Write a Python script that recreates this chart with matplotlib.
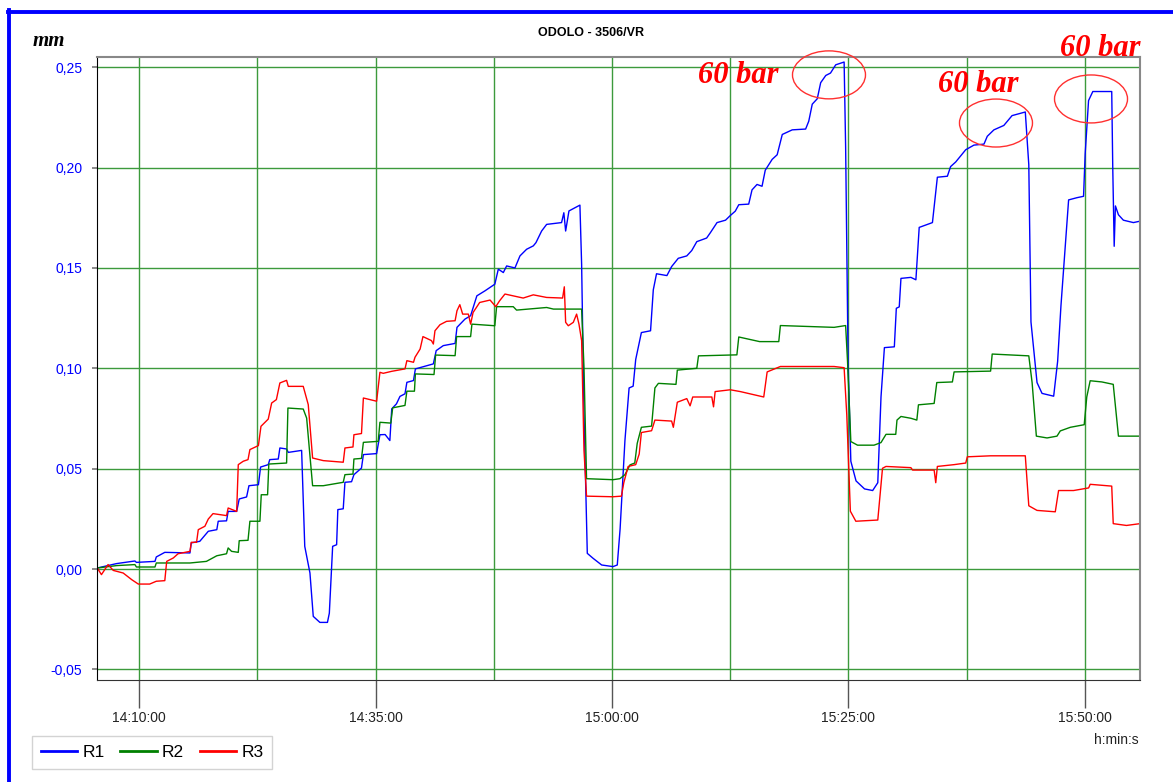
import matplotlib
matplotlib.use("Agg")
import matplotlib.pyplot as plt
from matplotlib.patches import Ellipse
from matplotlib.lines import Line2D
from matplotlib.ticker import FixedLocator, FuncFormatter

# Time axis: minutes after 14:00:00
r1_t = [5.56, 7.6, 9.54, 9.7, 11.66, 11.8, 12.7, 15.36, 15.5, 16.4, 17.3, 18.2, 18.35, 19.23, 19.4,
        20.3, 20.57, 21.35, 21.6, 22.6, 22.83, 23.64, 23.8, 24.7, 24.87, 25.58, 25.76, 27.17, 27.5,
        28.05, 28.4, 29.1, 29.9, 30.1, 30.45, 30.87, 31.0, 31.57, 31.75, 32.45, 32.7, 33.5, 33.7,
        35.1, 35.45, 36.0, 36.5, 36.7, 37.2, 37.57, 38.1, 38.3, 39.0, 39.2, 41.1, 41.4, 42.15, 43.4,
        43.6, 44.44, 45.04, 45.7, 46.56, 47.6, 47.97, 48.5, 48.85, 49.73, 50.26, 50.96, 51.67, 51.95,
        52.55, 53.08, 54.66, 54.9, 55.09, 55.44, 56.6, 56.78, 57.03, 57.38, 58.0, 58.9, 60.1, 60.55,
        60.85, 61.36, 61.8, 62.23, 62.5, 63.1, 64.07, 64.36, 64.7, 65.8, 66.3, 67.0, 67.9, 68.43,
        68.96, 70.0, 70.4, 71.1, 72.0, 72.5, 73.03, 73.4, 74.45, 74.8, 75.33, 75.86, 76.2, 76.93,
        77.46, 78.0, 79.05, 80.47, 80.8, 81.17, 81.7, 82.06, 82.6, 83.1, 83.65, 84.54, 84.7, 84.96,
        85.25, 85.8, 86.7, 87.56, 88.1, 88.44, 88.8, 89.85, 90.06, 90.37, 90.55, 91.6, 92.13, 92.48,
        93.88, 94.4, 95.46, 95.8, 96.34, 97.4, 98.27, 99.33, 99.68, 100.38, 101.43, 102.3, 103.7,
        104.07, 104.3, 104.94, 105.47, 106.7, 107.12, 107.47, 108.28, 109.16, 109.86, 110.03, 110.39,
        110.84, 112.84, 112.95, 113.1, 113.23, 113.55, 114.07, 115.13, 115.83]
r1_v = [0.0005, 0.0027, 0.004, 0.0033, 0.0038, 0.006, 0.0083, 0.008, 0.013, 0.0138, 0.0188, 0.0196,
        0.0238, 0.024, 0.0287, 0.0287, 0.0349, 0.0359, 0.0415, 0.042, 0.0508, 0.052, 0.0545, 0.0548,
        0.0603, 0.0598, 0.0581, 0.0591, 0.0113, -0.002, -0.0236, -0.0266, -0.0266, -0.022, 0.0113,
        0.0121, 0.0296, 0.030, 0.0432, 0.0435, 0.047, 0.0503, 0.057, 0.0575, 0.0669, 0.067, 0.064,
        0.0798, 0.0823, 0.086, 0.0873, 0.093, 0.0939, 0.0997, 0.1022, 0.1088, 0.1113, 0.1124, 0.1204,
        0.1245, 0.1262, 0.1361, 0.1386, 0.1419, 0.1494, 0.1477, 0.151, 0.150, 0.156, 0.1593, 0.161,
        0.1626, 0.1684, 0.1717, 0.1726, 0.1775, 0.1684, 0.1784, 0.1813, 0.1519, 0.0773, 0.0078,
        0.0053, 0.002, 0.0012, 0.002, 0.02, 0.064, 0.0902, 0.0911, 0.1044, 0.1178, 0.1187, 0.1391,
        0.1471, 0.1462, 0.1507, 0.1548, 0.156, 0.1587, 0.1631, 0.1649, 0.1676, 0.1726, 0.1738,
        0.1761, 0.1783, 0.1815, 0.1818, 0.1889, 0.1916, 0.1907, 0.1987, 0.2041, 0.2064, 0.2165,
        0.2188, 0.2192, 0.2231, 0.2316, 0.2343, 0.2423, 0.2459, 0.2471, 0.2512, 0.2526, 0.2103,
        0.1035, 0.0537, 0.0439, 0.0399, 0.0391, 0.043, 0.0857, 0.1103, 0.1107, 0.1299, 0.1306,
        0.1448, 0.1453, 0.1441, 0.1702, 0.1726, 0.1952, 0.1957, 0.2005, 0.2028, 0.2089, 0.2112,
        0.2117, 0.2156, 0.2188, 0.221, 0.2259, 0.2277, 0.2014, 0.1231, 0.0929, 0.0875, 0.0861,
        0.1035, 0.1311, 0.1839, 0.185, 0.1857, 0.2067, 0.2334, 0.2379, 0.2379, 0.1996, 0.1608,
        0.1809, 0.1765, 0.1738, 0.1726, 0.1733]

r2_t = [5.56, 7.6, 9.54, 9.7, 11.66, 11.8, 15.36, 17.1, 18.2, 19.23, 19.4, 19.76, 20.47, 20.57, 21.5,
        21.7, 22.76, 22.9, 23.57, 23.7, 25.58, 25.72, 27.34, 27.7, 28.33, 29.46, 31.57, 31.75, 32.6,
        32.7, 33.5, 33.7, 35.27, 35.45, 36.6, 36.8, 38.1, 38.3, 39.1, 39.2, 41.17, 41.34, 43.4, 43.56,
        45.04, 45.18, 47.6, 47.79, 49.55, 49.9, 53.08, 53.8, 56.78, 57.03, 57.3, 60.1, 60.83, 61.36,
        61.9, 62.4, 62.66, 63.1, 64.18, 64.53, 64.9, 66.76, 66.9, 68.96, 69.14, 73.2, 73.4, 75.6,
        77.63, 77.8, 83.48, 84.7, 84.9, 85.25, 85.96, 87.7, 88.44, 88.97, 90.0, 90.13, 90.55, 91.6,
        92.23, 92.4, 94.06, 94.34, 95.99, 96.17, 100.03, 100.2, 104.07, 104.42, 104.87, 106.0,
        107.05, 107.4, 108.46, 109.93, 110.2, 110.56, 111.8, 113.0, 113.55, 115.83]
r2_v = [0.0005, 0.0017, 0.0022, 0.001, 0.001, 0.003, 0.003, 0.0038, 0.0066, 0.0076, 0.0105, 0.0088,
        0.0083, 0.0141, 0.0143, 0.0238, 0.0238, 0.037, 0.037, 0.0523, 0.0528, 0.0802, 0.0797, 0.0752,
        0.0415, 0.0415, 0.0432, 0.047, 0.0473, 0.0548, 0.0551, 0.0631, 0.0636, 0.0731, 0.0727,
        0.0803, 0.0815, 0.0886, 0.0886, 0.0972, 0.0969, 0.1066, 0.1063, 0.1158, 0.1158, 0.122,
        0.1212, 0.1307, 0.1307, 0.129, 0.1303, 0.1295, 0.1295, 0.1005, 0.045, 0.0445, 0.045, 0.047,
        0.0519, 0.0528, 0.0626, 0.0706, 0.0712, 0.0902, 0.0925, 0.092, 0.0991, 0.100, 0.1062,
        0.1067, 0.1156, 0.1133, 0.1133, 0.1213, 0.1204, 0.1213, 0.1035, 0.0635, 0.0617, 0.0617,
        0.063, 0.0671, 0.0671, 0.0742, 0.076, 0.0751, 0.0742, 0.0818, 0.0825, 0.0929, 0.0932,
        0.0982, 0.0986, 0.1071, 0.1062, 0.0929, 0.0662, 0.0653, 0.0662, 0.0688, 0.0706, 0.0719,
        0.0857, 0.0938, 0.0932, 0.092, 0.0662, 0.0662]

r3_t = [5.56, 6.0, 6.7, 7.25, 8.3, 9.2, 9.9, 11.1, 11.8, 12.7, 12.9, 13.6, 14.1, 15.36, 15.5, 16.06,
        16.24, 16.94, 17.3, 17.8, 19.23, 19.4, 20.3, 20.47, 21.0, 21.5, 21.7, 22.6, 22.87, 23.64,
        24.0, 24.5, 24.87, 25.58, 25.76, 27.34, 27.87, 28.33, 29.46, 31.57, 31.75, 32.6, 32.7, 33.5,
        33.7, 35.1, 35.45, 35.8, 36.7, 38.1, 38.3, 39.0, 39.16, 39.7, 40.0, 40.9, 41.1, 41.27, 41.8,
        42.5, 43.4, 43.6, 43.9, 44.2, 44.8, 45.04, 45.3, 46.0, 47.1, 47.7, 48.1, 48.67, 49.55, 50.6,
        51.67, 53.08, 54.77, 54.95, 55.09, 55.37, 55.9, 56.25, 56.5, 56.78, 57.03, 57.3, 60.1, 60.99,
        61.24, 61.7, 62.5, 62.87, 63.1, 64.18, 64.53, 66.3, 66.48, 66.9, 67.9, 68.25, 68.53, 70.55,
        70.73, 70.9, 72.5, 73.56, 76.04, 76.4, 77.8, 83.48, 84.54, 84.82, 85.2, 85.78, 88.1, 88.6,
        88.97, 91.6, 91.78, 94.06, 94.23, 94.4, 96.17, 97.4, 97.57, 100.03, 103.7, 104.07, 104.94,
        106.87, 107.22, 108.8, 110.4, 110.56, 112.84, 113.0, 114.4, 115.83]
r3_v = [0.0005, -0.0028, 0.0022, -0.0007, -0.002, -0.0053, -0.0075, -0.0075, -0.0061, -0.0058,
        0.0038, 0.0055, 0.0076, 0.0088, 0.0133, 0.0133, 0.0196, 0.0213, 0.0249, 0.0276, 0.0266,
        0.0304, 0.0287, 0.052, 0.0537, 0.0545, 0.0595, 0.0615, 0.0711, 0.0747, 0.0827, 0.0844,
        0.0927, 0.094, 0.091, 0.091, 0.0819, 0.0553, 0.054, 0.0532, 0.0603, 0.0608, 0.0669, 0.0675,
        0.0852, 0.0836, 0.098, 0.0975, 0.0985, 0.0997, 0.1038, 0.103, 0.1055, 0.1096, 0.1158,
        0.1138, 0.1121, 0.1187, 0.1217, 0.1234, 0.1237, 0.1287, 0.1317, 0.127, 0.127, 0.122,
        0.1278, 0.1328, 0.134, 0.1307, 0.1336, 0.137, 0.1361, 0.135, 0.1366, 0.1353, 0.135, 0.1406,
        0.1229, 0.1212, 0.1229, 0.127, 0.122, 0.1138, 0.0591, 0.0363, 0.036, 0.0363, 0.043, 0.0511,
        0.052, 0.0573, 0.068, 0.0689, 0.0742, 0.0737, 0.0706, 0.0831, 0.0849, 0.0813, 0.0857,
        0.0857, 0.0808, 0.0884, 0.0893, 0.0884, 0.0857, 0.0982, 0.1009, 0.1009, 0.1003, 0.0769,
        0.0288, 0.0238, 0.0244, 0.0502, 0.0511, 0.0505, 0.0493, 0.0493, 0.043, 0.0511, 0.052,
        0.0528, 0.0559, 0.0564, 0.0564, 0.0315, 0.0292, 0.0285, 0.0391, 0.0391, 0.0404, 0.0422,
        0.0413, 0.0226, 0.0217, 0.0226]

series_names = ["R1", "R2", "R3"]
series_colors = ["#0000ff", "#008000", "#ff0000"]

y_ticks = [-0.05, 0.0, 0.05, 0.10, 0.15, 0.20, 0.25]
x_major = [10, 35, 60, 85, 110]
x_grid = [10, 22.5, 35, 47.5, 60, 72.5, 85, 97.5, 110]

# "60 bar" callouts: ellipse centre (min, mm) and label anchor (min, mm)
callout_centres = [(82.94, 0.2462), (100.6, 0.2222), (110.65, 0.2342)]
callout_labels = [(69.08, 0.2422), (94.47, 0.2377), (107.37, 0.2555)]
callout_text = "60 bar"

W, H = 1173, 782
fig = plt.figure(figsize=(W / 100, H / 100), dpi=100)
ax = fig.add_axes([97 / W, 1 - 680 / H, (1140 - 97) / W, (680 - 57) / H])

for t, v, name, col in zip([r1_t, r2_t, r3_t], [r1_v, r2_v, r3_v], series_names, series_colors):
    ax.plot(t, v, color=col, lw=1.0, label=name)

ax.set_xlim(5.53, 115.83)
ax.set_ylim(-0.0553, 0.2551)

# grid
for gx in x_grid:
    ax.axvline(gx, color="#3c9a3c", lw=1.0, zorder=0)
for gy in y_ticks:
    ax.axhline(gy, color="#3c9a3c", lw=1.0, zorder=0)


def fmt_time(m, _pos):
    total = int(round(m * 60))
    h = 14 + total // 3600
    mm = (total % 3600) // 60
    ss = total % 60
    return f"{h:02d}:{mm:02d}:{ss:02d}"


ax.xaxis.set_major_locator(FixedLocator(x_major))
ax.xaxis.set_major_formatter(FuncFormatter(fmt_time))
ax.yaxis.set_major_locator(FixedLocator(y_ticks))
ax.yaxis.set_major_formatter(FuncFormatter(lambda v, _p: f"{v:.2f}".replace(".", ",")))

ax.tick_params(axis="x", length=20, width=1.0, color="#555555", pad=2,
               labelsize=10, labelcolor="#222222")
ax.tick_params(axis="y", length=3.5, width=1.2, color="#777777", pad=7,
               labelsize=10, labelcolor="#0000ff")
for lab in ax.get_xticklabels() + ax.get_yticklabels():
    lab.set_fontfamily("Liberation Sans")

ax.spines["top"].set_color("#888888")
ax.spines["right"].set_color("#888888")
ax.spines["top"].set_linewidth(1.5)
ax.spines["right"].set_linewidth(1.5)
ax.spines["left"].set_color("#000000")
ax.spines["bottom"].set_color("#333333")

# pressure callouts
for (cx, cy), (lx, ly) in zip(callout_centres, callout_labels):
    ax.add_patch(Ellipse((cx, cy), 7.72, 0.0239, fill=False, edgecolor="#ff3030",
                         lw=1.0, clip_on=False, zorder=5))
    ax.text(lx, ly, callout_text, color="#ff0000", fontsize=22, fontweight="bold",
            fontstyle="italic", fontfamily="Liberation Serif", va="baseline", ha="left",
            clip_on=False, zorder=6)

# header texts
fig.text(591 / W, 1 - 33 / H, "ODOLO - 3506/VR", ha="center", va="center",
         fontsize=9, fontweight="bold", fontfamily="Liberation Sans")
fig.text(33 / W, 1 - 41 / H, "mm", ha="left", va="center", fontsize=15,
         fontweight="bold", fontstyle="italic", fontfamily="Liberation Serif")
fig.text(1139 / W, 1 - 740 / H, "h:min:s", ha="right", va="center", fontsize=10,
         fontfamily="Liberation Sans", color="#222222")

leg = fig.legend(loc="lower left", bbox_to_anchor=(32 / W, 1 - 769 / H), ncol=3,
                 frameon=True, fancybox=False, edgecolor="#c8c8c8",
                 handlelength=2.1, handletextpad=0.3, columnspacing=0.9,
                 borderpad=0.5, borderaxespad=0.0,
                 prop={"family": "Liberation Sans", "size": 12.5})
for line in leg.get_lines():
    line.set_linewidth(2.0)

# blue page frame
fig.add_artist(Line2D([9 / W, 9 / W], [0, 1 - 10 / H], color="#0000ff", lw=2.8,
                      transform=fig.transFigure))
fig.add_artist(Line2D([7.6 / W, 1], [1 - 11.5 / H, 1 - 11.5 / H], color="#0000ff", lw=2.8,
                      transform=fig.transFigure))

fig.savefig("out.png", dpi=100, facecolor="white")
